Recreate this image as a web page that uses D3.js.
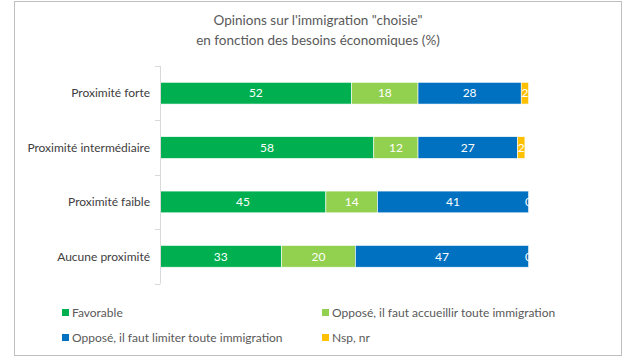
<!DOCTYPE html>
<html>
<head>
<meta charset="utf-8">
<script src="https://cdn.jsdelivr.net/npm/d3@7"></script>
<style>
  body { margin: 0; background: #fff; }
  svg text { font-family: Lato, "Open Sans", sans-serif; }
</style>
</head>
<body>
<svg id="chart" width="636" height="358"></svg>
<script>
const CATEGORIES = ["Proximité forte", "Proximité intermédiaire", "Proximité faible", "Aucune proximité"];
const SERIES = ["Favorable", "Opposé, il faut accueillir toute immigration", "Opposé, il faut limiter toute immigration", "Nsp, nr"];
const FAVORABLE = [52, 58, 45, 33];
const ACCUEILLIR = [18, 12, 14, 20];
const LIMITER = [28, 27, 41, 47];
const NSP = [2, 2, 0, 0];
const COLORS = ["#00B050", "#92D050", "#0070C0", "#FFC000"];

const svg = d3.select("#chart");

// cadre
svg.append("rect")
    .attr("x", 14.5).attr("y", 1.5)
    .attr("width", 607).attr("height", 354)
    .attr("fill", "#fff")
    .attr("stroke", "#bfbfbf");

// titre
svg.append("text")
    .attr("x", 318).attr("y", 25)
    .attr("text-anchor", "middle")
    .attr("fill", "#595959")
    .style("font-size", "13.5px")
    .text("Opinions sur l'immigration \"choisie\"");
svg.append("text")
    .attr("x", 318).attr("y", 45)
    .attr("text-anchor", "middle")
    .attr("fill", "#595959")
    .style("font-size", "13.5px")
    .text("en fonction des besoins économiques (%)");

const rows = CATEGORIES.map((c, i) => ({
    cat: c,
    values: [FAVORABLE[i], ACCUEILLIR[i], LIMITER[i], NSP[i]]
}));

const x = d3.scaleLinear().domain([0, 100]).range([160, 528.6]);
const y = d3.scaleBand().domain(CATEGORIES).range([66, 283.5]).paddingInner(0.6).paddingOuter(0.3);

svg.append("defs").append("clipPath").attr("id", "plot")
    .append("rect").attr("x", 160).attr("y", 60).attr("width", 371).attr("height", 230);

const g = svg.append("g").attr("clip-path", "url(#plot)");

rows.forEach(r => {
    let acc = 0;
    r.values.forEach((v, j) => {
        const x0 = x(acc), x1 = x(acc + v);
        g.append("rect")
            .attr("x", x0).attr("y", y(r.cat))
            .attr("width", x1 - x0).attr("height", y.bandwidth())
            .attr("fill", COLORS[j])
            .attr("stroke", v > 0 ? "#fff" : "none")
            .attr("stroke-width", 0.6);
        g.append("text")
            .attr("x", (x0 + x1) / 2)
            .attr("y", y(r.cat) + y.bandwidth() / 2)
            .attr("dy", "0.35em")
            .attr("text-anchor", "middle")
            .attr("fill", "#fff")
            .style("font-size", "12px")
            .text(v);
        acc += v;
    });
});

// axe vertical
const yAxis = d3.scaleLinear().domain([0, 4]).range([66, 283.5]);
svg.append("line")
    .attr("x1", 160.5).attr("x2", 160.5)
    .attr("y1", yAxis(0)).attr("y2", yAxis(4))
    .attr("stroke", "#d9d9d9");
svg.selectAll(".tick")
    .data(d3.range(5))
    .enter().append("line")
    .attr("x1", 155).attr("x2", 160.5)
    .attr("y1", d => Math.round(yAxis(d)) + 0.5)
    .attr("y2", d => Math.round(yAxis(d)) + 0.5)
    .attr("stroke", "#d9d9d9");

svg.selectAll(".cat")
    .data(CATEGORIES)
    .enter().append("text")
    .attr("x", 150)
    .attr("y", d => y(d) + y.bandwidth() / 2)
    .attr("dy", "0.35em")
    .attr("text-anchor", "end")
    .attr("fill", "#404040")
    .style("font-size", "12px")
    .text(d => d);

// légende
const legendPos = [[62, 313], [322, 313], [62, 338], [322, 338]];
SERIES.forEach((s, i) => {
    const [lx, ly] = legendPos[i];
    svg.append("rect")
        .attr("x", lx).attr("y", ly - 4)
        .attr("width", 7).attr("height", 7)
        .attr("fill", COLORS[i]);
    svg.append("text")
        .attr("x", lx + 10).attr("y", ly)
        .attr("dy", "0.35em")
        .attr("fill", "#595959")
        .style("font-size", "12px")
        .text(s);
});
</script>
</body>
</html>
